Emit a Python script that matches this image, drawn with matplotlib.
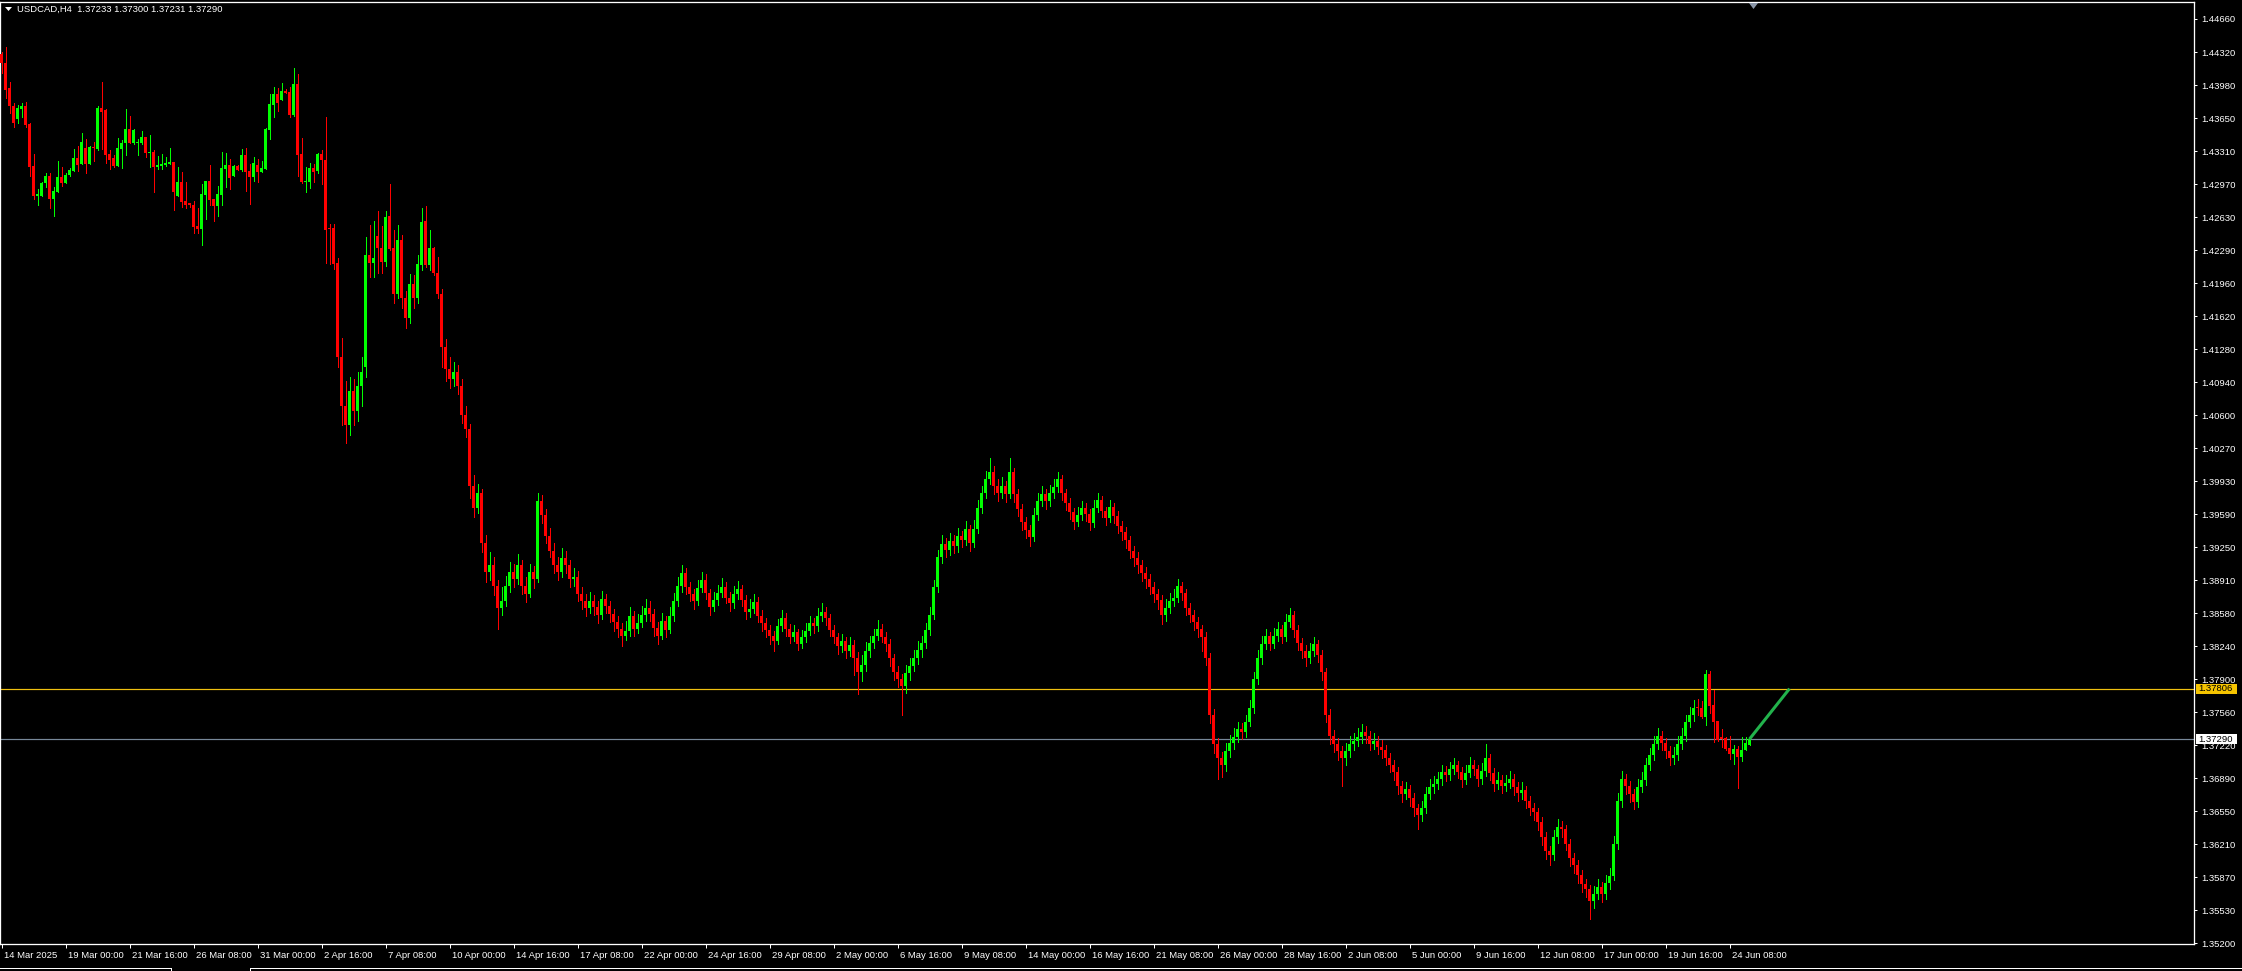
import numpy as np
import matplotlib
matplotlib.use('Agg')
import matplotlib.pyplot as plt
from matplotlib.patches import Rectangle, Polygon
from matplotlib.transforms import blended_transform_factory, ScaledTranslation

plt.rcParams['font.family'] = ['Liberation Sans', 'DejaVu Sans']

# ---- data (USDCAD H4) ----
title_text = 'USDCAD,H4  1.37233 1.37300 1.37231 1.37290'

opens = [
    1.44302, 1.44206, 1.43951, 1.43770, 1.43640, 1.43743, 1.43770, 1.43586, 1.43156, 1.42853,
    1.42853, 1.42979, 1.43054, 1.42822, 1.42890, 1.43040, 1.42982, 1.43064, 1.43108, 1.43238,
    1.43176, 1.43344, 1.43176, 1.43350, 1.43330, 1.43749, 1.43729, 1.43275, 1.43241, 1.43156,
    1.43330, 1.43388, 1.43531, 1.43395, 1.43395, 1.43395, 1.43453, 1.43289, 1.43299, 1.43149,
    1.43159, 1.43170, 1.43176, 1.43197, 1.42849, 1.42992, 1.42798, 1.42774, 1.42757, 1.42542,
    1.42512, 1.42859, 1.43003, 1.42815, 1.42750, 1.42859, 1.43125, 1.43166, 1.43057, 1.43156,
    1.43115, 1.43269, 1.43105, 1.43040, 1.43166, 1.43098, 1.43122, 1.43528, 1.43780, 1.43893,
    1.43831, 1.43927, 1.43916, 1.43678, 1.43998, 1.43279, 1.42996, 1.42996, 1.43139, 1.43105,
    1.43279, 1.43217, 1.42522, 1.42522, 1.42164, 1.41200, 1.40700, 1.40500, 1.40850, 1.40650,
    1.40900, 1.41100, 1.42245, 1.42167, 1.42440, 1.42321, 1.42177, 1.42645, 1.42321, 1.41850,
    1.42399, 1.41800, 1.41600, 1.41949, 1.41800, 1.42143, 1.42593, 1.42143, 1.42314, 1.42058,
    1.41850, 1.41300, 1.41078, 1.40976, 1.41049, 1.40903, 1.40610, 1.40464, 1.39878, 1.39659,
    1.39805, 1.39293, 1.39000, 1.39073, 1.38854, 1.38634, 1.38707, 1.38854, 1.39000, 1.38927,
    1.39073, 1.38854, 1.38780, 1.39000, 1.38927, 1.39732, 1.39585, 1.39366, 1.39220, 1.39073,
    1.39000, 1.39146, 1.39073, 1.38927, 1.38950, 1.38780, 1.38707, 1.38634, 1.38707, 1.38640,
    1.38561, 1.38720, 1.38650, 1.38570, 1.38488, 1.38415, 1.38341, 1.38400, 1.38550, 1.38420,
    1.38480, 1.38560, 1.38630, 1.38575, 1.38425, 1.38350, 1.38495, 1.38410, 1.38545, 1.38700,
    1.38860, 1.38990, 1.38845, 1.38770, 1.38705, 1.38840, 1.38920, 1.38785, 1.38640, 1.38710,
    1.38790, 1.38850, 1.38737, 1.38678, 1.38775, 1.38824, 1.38715, 1.38590, 1.38625, 1.38695,
    1.38555, 1.38480, 1.38405, 1.38345, 1.38298, 1.38444, 1.38532, 1.38420, 1.38335, 1.38385,
    1.38268, 1.38330, 1.38400, 1.38475, 1.38444, 1.38550, 1.38590, 1.38525, 1.38410, 1.38340,
    1.38239, 1.38290, 1.38195, 1.38255, 1.38122, 1.37975, 1.38049, 1.38190, 1.38270, 1.38345,
    1.38420, 1.38335, 1.38260, 1.38115, 1.37980, 1.37902, 1.37829, 1.37970, 1.38040, 1.38125,
    1.38200, 1.38275, 1.38410, 1.38565, 1.38850, 1.39150, 1.39290, 1.39225, 1.39322, 1.39263,
    1.39366, 1.39330, 1.39439, 1.39300, 1.39445, 1.39659, 1.39805, 1.39951, 1.40024, 1.39878,
    1.39810, 1.39880, 1.39800, 1.40020, 1.39795, 1.39650, 1.39512, 1.39435, 1.39360, 1.39585,
    1.39732, 1.39800, 1.39730, 1.39810, 1.39875, 1.39950, 1.39805, 1.39703, 1.39615, 1.39515,
    1.39580, 1.39655, 1.39590, 1.39505, 1.39660, 1.39735, 1.39620, 1.39556, 1.39665, 1.39575,
    1.39468, 1.39410, 1.39325, 1.39215, 1.39140, 1.39070, 1.38995, 1.38925, 1.38850, 1.38780,
    1.38710, 1.38560, 1.38635, 1.38705, 1.38737, 1.38855, 1.38785, 1.38630, 1.38565, 1.38490,
    1.38415, 1.38340, 1.38120, 1.37540, 1.37240, 1.37100, 1.37020, 1.37170, 1.37250, 1.37315,
    1.37390, 1.37360, 1.37463, 1.37610, 1.37902, 1.38122, 1.38268, 1.38341, 1.38265, 1.38345,
    1.38415, 1.38335, 1.38488, 1.38561, 1.38410, 1.38270, 1.38195, 1.38122, 1.38190, 1.38260,
    1.38151, 1.37975, 1.37537, 1.37317, 1.37244, 1.37171, 1.37098, 1.37165, 1.37240, 1.37273,
    1.37310, 1.37361, 1.37320, 1.37245, 1.37270, 1.37214, 1.37175, 1.37095, 1.37024, 1.36951,
    1.36805, 1.36731, 1.36776, 1.36688, 1.36585, 1.36512, 1.36580, 1.36725, 1.36800, 1.36834,
    1.36878, 1.36950, 1.36922, 1.36981, 1.37020, 1.36955, 1.36875, 1.36945, 1.37030, 1.36985,
    1.36880, 1.36960, 1.37095, 1.36940, 1.36830, 1.36870, 1.36810, 1.36840, 1.36885, 1.36795,
    1.36735, 1.36770, 1.36658, 1.36590, 1.36541, 1.36439, 1.36292, 1.36146, 1.36102, 1.36285,
    1.36395, 1.36366, 1.36219, 1.36073, 1.35999, 1.35897, 1.35809, 1.35751, 1.35634, 1.35707,
    1.35780, 1.35700, 1.35815, 1.35890, 1.36219, 1.36658, 1.36878, 1.36805, 1.36731, 1.36650,
    1.36800, 1.36870, 1.37024, 1.37127, 1.37244, 1.37317, 1.37250, 1.37171, 1.37098, 1.37130,
    1.37240, 1.37320, 1.37463, 1.37537, 1.37610, 1.37609, 1.37520, 1.37957, 1.37636, 1.37476,
    1.37308, 1.37305, 1.37203, 1.37138, 1.37189, 1.37111, 1.37179, 1.37233,
]
highs = [
    1.44326, 1.44377, 1.44019, 1.43797, 1.43780, 1.43797, 1.43811, 1.43592, 1.43279, 1.42921,
    1.42996, 1.43088, 1.43088, 1.42945, 1.43207, 1.43142, 1.43081, 1.43139, 1.43327, 1.43361,
    1.43490, 1.43432, 1.43361, 1.43405, 1.43770, 1.44015, 1.43736, 1.43320, 1.43269, 1.43442,
    1.43422, 1.43739, 1.43668, 1.43531, 1.43436, 1.43514, 1.43456, 1.43473, 1.43320, 1.43258,
    1.43279, 1.43252, 1.43340, 1.43200, 1.43146, 1.43095, 1.42996, 1.42774, 1.42801, 1.42730,
    1.42972, 1.43003, 1.43166, 1.42815, 1.42951, 1.43299, 1.43286, 1.43224, 1.43163, 1.43163,
    1.43327, 1.43340, 1.43173, 1.43248, 1.43224, 1.43207, 1.43545, 1.43893, 1.43968, 1.43957,
    1.44009, 1.43940, 1.43968, 1.44159, 1.44097, 1.43446, 1.43149, 1.43183, 1.43173, 1.43286,
    1.43320, 1.43654, 1.42563, 1.42559, 1.42210, 1.41400, 1.40950, 1.41000, 1.40980, 1.41050,
    1.41200, 1.42433, 1.42552, 1.42593, 1.42696, 1.42542, 1.42696, 1.42972, 1.42501, 1.42552,
    1.42450, 1.41880, 1.42051, 1.42041, 1.42245, 1.42726, 1.42747, 1.42501, 1.42330, 1.42228,
    1.41900, 1.41380, 1.41200, 1.41150, 1.41120, 1.40980, 1.40700, 1.40520, 1.39990, 1.39900,
    1.39850, 1.39380, 1.39200, 1.39150, 1.38920, 1.38850, 1.38960, 1.39100, 1.39080, 1.39180,
    1.39120, 1.38950, 1.39080, 1.39060, 1.39805, 1.39790, 1.39640, 1.39450, 1.39300, 1.39150,
    1.39250, 1.39220, 1.39120, 1.39040, 1.39010, 1.38850, 1.38780, 1.38800, 1.38760, 1.38700,
    1.38810, 1.38780, 1.38700, 1.38620, 1.38550, 1.38480, 1.38500, 1.38640, 1.38600, 1.38570,
    1.38650, 1.38720, 1.38700, 1.38620, 1.38490, 1.38580, 1.38550, 1.38640, 1.38790, 1.38950,
    1.39073, 1.39040, 1.38900, 1.38830, 1.38920, 1.39000, 1.38980, 1.38830, 1.38800, 1.38870,
    1.38940, 1.38900, 1.38800, 1.38860, 1.38910, 1.38870, 1.38760, 1.38720, 1.38780, 1.38740,
    1.38610, 1.38530, 1.38460, 1.38400, 1.38520, 1.38610, 1.38580, 1.38470, 1.38460, 1.38420,
    1.38410, 1.38480, 1.38550, 1.38530, 1.38630, 1.38680, 1.38640, 1.38570, 1.38460, 1.38380,
    1.38370, 1.38330, 1.38330, 1.38300, 1.38180, 1.38150, 1.38280, 1.38350, 1.38420, 1.38510,
    1.38470, 1.38390, 1.38310, 1.38160, 1.38040, 1.37960, 1.38050, 1.38120, 1.38200, 1.38290,
    1.38350, 1.38480, 1.38640, 1.38920, 1.39230, 1.39380, 1.39350, 1.39400, 1.39380, 1.39450,
    1.39420, 1.39520, 1.39480, 1.39530, 1.39740, 1.39880, 1.40030, 1.40171, 1.40080, 1.39950,
    1.39970, 1.39930, 1.40171, 1.40060, 1.39850, 1.39700, 1.39560, 1.39480, 1.39660, 1.39810,
    1.39880, 1.39850, 1.39890, 1.39950, 1.40024, 1.39990, 1.39850, 1.39760, 1.39660, 1.39670,
    1.39730, 1.39710, 1.39640, 1.39740, 1.39810, 1.39780, 1.39670, 1.39740, 1.39710, 1.39620,
    1.39520, 1.39460, 1.39370, 1.39270, 1.39200, 1.39120, 1.39050, 1.38980, 1.38900, 1.38830,
    1.38760, 1.38720, 1.38790, 1.38830, 1.38930, 1.38900, 1.38830, 1.38680, 1.38610, 1.38540,
    1.38460, 1.38390, 1.38170, 1.37600, 1.37300, 1.37160, 1.37250, 1.37330, 1.37400, 1.37470,
    1.37450, 1.37540, 1.37690, 1.37980, 1.38200, 1.38350, 1.38420, 1.38390, 1.38430, 1.38490,
    1.38460, 1.38570, 1.38634, 1.38600, 1.38460, 1.38320, 1.38250, 1.38270, 1.38340, 1.38300,
    1.38200, 1.38020, 1.37600, 1.37380, 1.37300, 1.37220, 1.37250, 1.37320, 1.37350, 1.37400,
    1.37440, 1.37420, 1.37370, 1.37350, 1.37320, 1.37280, 1.37230, 1.37150, 1.37080, 1.37000,
    1.36860, 1.36850, 1.36820, 1.36740, 1.36630, 1.36660, 1.36800, 1.36880, 1.36910, 1.36950,
    1.37030, 1.37010, 1.37060, 1.37100, 1.37070, 1.37000, 1.37020, 1.37110, 1.37080, 1.37030,
    1.37050, 1.37244, 1.37140, 1.36990, 1.36950, 1.36920, 1.36920, 1.36960, 1.36930, 1.36850,
    1.36850, 1.36810, 1.36710, 1.36640, 1.36590, 1.36490, 1.36340, 1.36200, 1.36360, 1.36470,
    1.36450, 1.36410, 1.36270, 1.36120, 1.36050, 1.35950, 1.35860, 1.35800, 1.35790, 1.35860,
    1.35830, 1.35900, 1.35970, 1.36300, 1.36740, 1.36960, 1.36930, 1.36860, 1.36780, 1.36880,
    1.36950, 1.37100, 1.37200, 1.37320, 1.37400, 1.37370, 1.37300, 1.37220, 1.37210, 1.37320,
    1.37400, 1.37540, 1.37620, 1.37690, 1.37700, 1.37680, 1.37998, 1.37988, 1.37793, 1.37476,
    1.37394, 1.37315, 1.37322, 1.37230, 1.37220, 1.37308, 1.37308, 1.37300,
]
lows = [
    1.44104, 1.43848, 1.43695, 1.43552, 1.43592, 1.43661, 1.43552, 1.43057, 1.42822, 1.42760,
    1.42853, 1.42945, 1.42730, 1.42645, 1.42890, 1.42951, 1.42979, 1.43054, 1.43105, 1.43108,
    1.43173, 1.43088, 1.43176, 1.43204, 1.43320, 1.43327, 1.43183, 1.43129, 1.43142, 1.43156,
    1.43139, 1.43272, 1.43388, 1.43381, 1.43272, 1.43378, 1.43251, 1.43149, 1.42893, 1.43122,
    1.43122, 1.43156, 1.43173, 1.42709, 1.42849, 1.42740, 1.42730, 1.42740, 1.42467, 1.42467,
    1.42351, 1.42614, 1.42754, 1.42593, 1.42645, 1.42754, 1.42938, 1.42924, 1.43057, 1.43115,
    1.43105, 1.42900, 1.42771, 1.43006, 1.42996, 1.43098, 1.43122, 1.43436, 1.43661, 1.43722,
    1.43831, 1.43899, 1.43661, 1.43671, 1.43057, 1.42979, 1.42893, 1.42927, 1.42989, 1.43081,
    1.42968, 1.42160, 1.42153, 1.42106, 1.41100, 1.40500, 1.40321, 1.40400, 1.40500, 1.40550,
    1.40700, 1.41000, 1.42024, 1.42024, 1.42058, 1.42058, 1.42133, 1.42300, 1.41750, 1.41800,
    1.41700, 1.41500, 1.41550, 1.41700, 1.41750, 1.42092, 1.42126, 1.42092, 1.42040, 1.41800,
    1.41100, 1.40950, 1.40880, 1.40900, 1.40820, 1.40530, 1.40380, 1.39760, 1.39560, 1.39600,
    1.39200, 1.38900, 1.38920, 1.38760, 1.38420, 1.38560, 1.38650, 1.38800, 1.38850, 1.38880,
    1.38780, 1.38690, 1.38740, 1.38840, 1.38900, 1.39500, 1.39300, 1.39150, 1.38990, 1.38920,
    1.38950, 1.38990, 1.38850, 1.38860, 1.38700, 1.38620, 1.38550, 1.38580, 1.38560, 1.38480,
    1.38520, 1.38580, 1.38490, 1.38400, 1.38330, 1.38240, 1.38300, 1.38350, 1.38350, 1.38380,
    1.38440, 1.38500, 1.38500, 1.38350, 1.38260, 1.38310, 1.38330, 1.38380, 1.38500, 1.38650,
    1.38800, 1.38780, 1.38700, 1.38620, 1.38660, 1.38800, 1.38720, 1.38560, 1.38600, 1.38660,
    1.38740, 1.38680, 1.38600, 1.38630, 1.38720, 1.38650, 1.38520, 1.38540, 1.38580, 1.38490,
    1.38400, 1.38330, 1.38260, 1.38195, 1.38260, 1.38400, 1.38350, 1.38270, 1.38290, 1.38200,
    1.38220, 1.38280, 1.38360, 1.38380, 1.38400, 1.38500, 1.38460, 1.38350, 1.38270, 1.38160,
    1.38180, 1.38120, 1.38140, 1.37950, 1.37756, 1.37880, 1.37990, 1.38130, 1.38220, 1.38300,
    1.38280, 1.38190, 1.38040, 1.37900, 1.37820, 1.37537, 1.37760, 1.37900, 1.37990, 1.38060,
    1.38130, 1.38220, 1.38360, 1.38520, 1.38800, 1.39090, 1.39150, 1.39170, 1.39190, 1.39210,
    1.39260, 1.39280, 1.39220, 1.39260, 1.39400, 1.39600, 1.39760, 1.39900, 1.39800, 1.39730,
    1.39760, 1.39720, 1.39760, 1.39720, 1.39570, 1.39430, 1.39350, 1.39270, 1.39320, 1.39530,
    1.39680, 1.39650, 1.39680, 1.39760, 1.39820, 1.39740, 1.39630, 1.39540, 1.39440, 1.39470,
    1.39530, 1.39520, 1.39430, 1.39460, 1.39610, 1.39560, 1.39480, 1.39510, 1.39500, 1.39400,
    1.39330, 1.39250, 1.39140, 1.39060, 1.38990, 1.38910, 1.38840, 1.38770, 1.38690, 1.38620,
    1.38470, 1.38500, 1.38580, 1.38650, 1.38690, 1.38710, 1.38560, 1.38490, 1.38410, 1.38330,
    1.38195, 1.38050, 1.37450, 1.37150, 1.36878, 1.36900, 1.36960, 1.37110, 1.37190, 1.37260,
    1.37290, 1.37310, 1.37420, 1.37560, 1.37850, 1.38060, 1.38210, 1.38200, 1.38220, 1.38290,
    1.38270, 1.38290, 1.38440, 1.38340, 1.38200, 1.38120, 1.38040, 1.38070, 1.38140, 1.38080,
    1.37900, 1.37460, 1.37240, 1.37160, 1.37080, 1.36805, 1.37030, 1.37110, 1.37180, 1.37220,
    1.37250, 1.37250, 1.37180, 1.37190, 1.37140, 1.37100, 1.37020, 1.36950, 1.36870, 1.36730,
    1.36650, 1.36680, 1.36610, 1.36500, 1.36366, 1.36450, 1.36530, 1.36680, 1.36740, 1.36780,
    1.36820, 1.36860, 1.36870, 1.36930, 1.36890, 1.36800, 1.36830, 1.36900, 1.36920, 1.36810,
    1.36830, 1.36910, 1.36870, 1.36760, 1.36780, 1.36740, 1.36760, 1.36790, 1.36720, 1.36660,
    1.36680, 1.36580, 1.36510, 1.36460, 1.36360, 1.36210, 1.36060, 1.35999, 1.36050, 1.36230,
    1.36290, 1.36150, 1.35990, 1.35920, 1.35820, 1.35730, 1.35670, 1.35444, 1.35560, 1.35650,
    1.35620, 1.35650, 1.35760, 1.35850, 1.36170, 1.36600, 1.36730, 1.36650, 1.36570, 1.36600,
    1.36750, 1.36820, 1.36970, 1.37080, 1.37190, 1.37180, 1.37100, 1.37020, 1.37040, 1.37080,
    1.37190, 1.37270, 1.37410, 1.37480, 1.37540, 1.37503, 1.37435, 1.37561, 1.37264, 1.37274,
    1.37213, 1.37179, 1.37083, 1.37036, 1.36793, 1.37070, 1.37179, 1.37231,
]
closes = [
    1.44206, 1.43934, 1.43773, 1.43599, 1.43746, 1.43770, 1.43575, 1.43149, 1.42853, 1.42870,
    1.42979, 1.43054, 1.42822, 1.42897, 1.43040, 1.42982, 1.43064, 1.43115, 1.43238, 1.43166,
    1.43402, 1.43176, 1.43354, 1.43337, 1.43749, 1.43712, 1.43269, 1.43217, 1.43156, 1.43340,
    1.43388, 1.43531, 1.43395, 1.43524, 1.43402, 1.43453, 1.43289, 1.43299, 1.43149, 1.43166,
    1.43180, 1.43187, 1.43197, 1.42890, 1.42992, 1.42791, 1.42757, 1.42754, 1.42532, 1.42512,
    1.42870, 1.43003, 1.42808, 1.42750, 1.42870, 1.43139, 1.43166, 1.43037, 1.43159, 1.43115,
    1.43269, 1.43098, 1.43040, 1.43187, 1.43095, 1.43139, 1.43538, 1.43790, 1.43893, 1.43801,
    1.43923, 1.43906, 1.43678, 1.43998, 1.43269, 1.42996, 1.43006, 1.43139, 1.43098, 1.43279,
    1.43217, 1.42501, 1.42512, 1.42153, 1.41200, 1.40700, 1.40500, 1.40850, 1.40650, 1.40900,
    1.41050, 1.42245, 1.42167, 1.42211, 1.42314, 1.42177, 1.42634, 1.42307, 1.41850, 1.42399,
    1.41800, 1.41600, 1.41949, 1.41800, 1.42153, 1.42583, 1.42143, 1.42317, 1.42058, 1.41850,
    1.41300, 1.41078, 1.40976, 1.41049, 1.40903, 1.40610, 1.40464, 1.39878, 1.39659, 1.39805,
    1.39293, 1.39000, 1.39073, 1.38854, 1.38634, 1.38707, 1.38854, 1.39000, 1.38927, 1.39073,
    1.38854, 1.38780, 1.39000, 1.38927, 1.39732, 1.39585, 1.39366, 1.39220, 1.39073, 1.39000,
    1.39146, 1.39073, 1.38927, 1.38950, 1.38780, 1.38707, 1.38634, 1.38707, 1.38640, 1.38561,
    1.38720, 1.38650, 1.38570, 1.38488, 1.38415, 1.38341, 1.38400, 1.38550, 1.38420, 1.38480,
    1.38560, 1.38630, 1.38575, 1.38425, 1.38350, 1.38495, 1.38410, 1.38545, 1.38700, 1.38860,
    1.38990, 1.38845, 1.38770, 1.38705, 1.38840, 1.38920, 1.38785, 1.38640, 1.38710, 1.38790,
    1.38850, 1.38737, 1.38678, 1.38775, 1.38824, 1.38715, 1.38590, 1.38625, 1.38695, 1.38555,
    1.38480, 1.38405, 1.38345, 1.38298, 1.38444, 1.38532, 1.38420, 1.38335, 1.38385, 1.38268,
    1.38330, 1.38400, 1.38475, 1.38444, 1.38550, 1.38590, 1.38525, 1.38410, 1.38340, 1.38239,
    1.38290, 1.38195, 1.38255, 1.38122, 1.37975, 1.38049, 1.38190, 1.38270, 1.38345, 1.38420,
    1.38335, 1.38260, 1.38115, 1.37980, 1.37902, 1.37829, 1.37970, 1.38040, 1.38125, 1.38200,
    1.38275, 1.38410, 1.38565, 1.38850, 1.39150, 1.39290, 1.39225, 1.39322, 1.39263, 1.39366,
    1.39330, 1.39439, 1.39300, 1.39445, 1.39659, 1.39805, 1.39951, 1.40024, 1.39878, 1.39810,
    1.39880, 1.39800, 1.40020, 1.39795, 1.39650, 1.39512, 1.39435, 1.39360, 1.39585, 1.39732,
    1.39800, 1.39730, 1.39810, 1.39875, 1.39950, 1.39805, 1.39703, 1.39615, 1.39515, 1.39580,
    1.39655, 1.39590, 1.39505, 1.39660, 1.39735, 1.39620, 1.39556, 1.39665, 1.39575, 1.39468,
    1.39410, 1.39325, 1.39215, 1.39140, 1.39070, 1.38995, 1.38925, 1.38850, 1.38780, 1.38710,
    1.38560, 1.38635, 1.38705, 1.38737, 1.38855, 1.38785, 1.38630, 1.38565, 1.38490, 1.38415,
    1.38340, 1.38120, 1.37540, 1.37240, 1.37100, 1.37020, 1.37170, 1.37250, 1.37315, 1.37390,
    1.37360, 1.37463, 1.37610, 1.37902, 1.38122, 1.38268, 1.38341, 1.38265, 1.38345, 1.38415,
    1.38335, 1.38488, 1.38561, 1.38410, 1.38270, 1.38195, 1.38122, 1.38190, 1.38260, 1.38151,
    1.37975, 1.37537, 1.37317, 1.37244, 1.37171, 1.37098, 1.37165, 1.37240, 1.37273, 1.37310,
    1.37361, 1.37320, 1.37245, 1.37270, 1.37214, 1.37175, 1.37095, 1.37024, 1.36951, 1.36805,
    1.36731, 1.36776, 1.36688, 1.36585, 1.36512, 1.36580, 1.36725, 1.36800, 1.36834, 1.36878,
    1.36950, 1.36922, 1.36981, 1.37020, 1.36955, 1.36875, 1.36945, 1.37030, 1.36985, 1.36880,
    1.36960, 1.37095, 1.36940, 1.36830, 1.36870, 1.36810, 1.36840, 1.36885, 1.36795, 1.36735,
    1.36770, 1.36658, 1.36590, 1.36541, 1.36439, 1.36292, 1.36146, 1.36102, 1.36285, 1.36395,
    1.36366, 1.36219, 1.36073, 1.35999, 1.35897, 1.35809, 1.35751, 1.35634, 1.35707, 1.35780,
    1.35700, 1.35815, 1.35890, 1.36219, 1.36658, 1.36878, 1.36805, 1.36731, 1.36650, 1.36800,
    1.36870, 1.37024, 1.37127, 1.37244, 1.37317, 1.37250, 1.37171, 1.37098, 1.37130, 1.37240,
    1.37320, 1.37463, 1.37537, 1.37610, 1.37609, 1.37520, 1.37957, 1.37633, 1.37469, 1.37281,
    1.37291, 1.37186, 1.37138, 1.37189, 1.37111, 1.37179, 1.37251, 1.37290,
]

x_labels = ['14 Mar 2025', '19 Mar 00:00', '21 Mar 16:00', '26 Mar 08:00', '31 Mar 00:00',
            '2 Apr 16:00', '7 Apr 08:00', '10 Apr 00:00', '14 Apr 16:00', '17 Apr 08:00',
            '22 Apr 00:00', '24 Apr 16:00', '29 Apr 08:00', '2 May 00:00', '6 May 16:00',
            '9 May 08:00', '14 May 00:00', '16 May 16:00', '21 May 08:00', '26 May 00:00',
            '28 May 16:00', '2 Jun 08:00', '5 Jun 00:00', '9 Jun 16:00', '12 Jun 08:00',
            '17 Jun 00:00', '19 Jun 16:00', '24 Jun 08:00']
bars_per_label = 16
y_labels = ['1.44660', '1.44320', '1.43980', '1.43650', '1.43310', '1.42970', '1.42630',
            '1.42290', '1.41960', '1.41620', '1.41280', '1.40940', '1.40600', '1.40270',
            '1.39930', '1.39590', '1.39250', '1.38910', '1.38580', '1.38240', '1.37900',
            '1.37560', '1.37220', '1.36890', '1.36550', '1.36210', '1.35870', '1.35530',
            '1.35200']

level_price = 1.37806
bid_price = 1.37290
trend_end_bar = 447

# ---- styling ----
UP = '#00ff00'
DOWN = '#ff0000'
LEVEL = '#f0c010'
BIDLINE = '#778899'
TREND = '#22b24c'
W, H = 2242, 971
PX = 72 / 100.0

opens = np.array(opens)
highs = np.array(highs)
lows = np.array(lows)
closes = np.array(closes)
n_bars = len(closes)

fig = plt.figure(figsize=(W / 100, H / 100), dpi=100, facecolor='black')
ax_left, ax_right, ax_top, ax_bot = 0, 2194, 1.7, 944
ax = fig.add_axes([ax_left / W, (H - ax_bot) / H, (ax_right - ax_left) / W, (ax_bot - ax_top) / H])
ax.set_facecolor('black')

idx = np.arange(n_bars)
up = closes >= opens
cols = np.where(up, UP, DOWN)

# wicks then bodies
ax.vlines(idx, lows, highs, colors=cols, linewidth=PX, antialiased=False, zorder=3)
body_lo = np.minimum(opens, closes)
body_h = np.maximum(np.abs(closes - opens), 0.00009)
ax.bar(idx, body_h, bottom=body_lo, width=0.75, color=cols, linewidth=0, antialiased=False, zorder=4)

ax.axhline(level_price, color=LEVEL, linewidth=PX * 1.2, zorder=2)
ax.axhline(bid_price, color=BIDLINE, linewidth=PX * 1.2, zorder=2)
ax.plot([n_bars - 1, trend_end_bar], [closes[-1], level_price], color=TREND, linewidth=2.2, zorder=5,
        solid_capstyle='butt')

ax.set_xlim(-0.375, 548.125)
ax.set_ylim(1.35193, 1.44837)

for sp in ax.spines.values():
    sp.set_color('white')
    sp.set_linewidth(PX * 1.3)

# x axis
ax.set_xticks(np.arange(len(x_labels)) * bars_per_label)
ax.set_xticklabels(x_labels, ha='left')
ax.tick_params(axis='x', colors='white', direction='out', length=3.0, width=PX, pad=2.2,
               labelsize=6.8, labelcolor='white')
shift = ScaledTranslation(2 / 100, 0, fig.dpi_scale_trans)
for lab in ax.get_xticklabels():
    lab.set_transform(lab.get_transform() + shift)

# y axis on the right
ax.yaxis.tick_right()
ax.set_yticks(np.linspace(float(y_labels[0]), float(y_labels[-1]), len(y_labels)))
ax.set_yticklabels(y_labels)
ax.tick_params(axis='y', colors='white', direction='out', length=2.5, width=PX, pad=2.5,
               labelsize=6.8, labelcolor='white')

# price tags on the scale
tag = blended_transform_factory(fig.transFigure, ax.transData)
tag_h = 10 / 9771
for price, face in [(level_price, '#f5c400'), (bid_price, 'white')]:
    fig.add_artist(Rectangle((2196 / W, price - tag_h / 2), 41 / W, tag_h, transform=tag,
                             facecolor=face, edgecolor='none', zorder=10))
    fig.text(2198.5 / W, price, '%.5f' % price, transform=tag, color='black', fontsize=6.8,
             va='center', ha='left', zorder=11)

# header
fig.text(17 / W, 1 - 9 / H, title_text, color='white', fontsize=6.8, va='center', ha='left')
fig.add_artist(Polygon([[5 / W, 1 - 7 / H], [12 / W, 1 - 7 / H], [8.5 / W, 1 - 11 / H]],
                       closed=True, facecolor='white', edgecolor='none', transform=fig.transFigure))
fig.add_artist(Polygon([[1749 / W, 1 - 3 / H], [1758 / W, 1 - 3 / H], [1753.5 / W, 1 - 9 / H]],
                       closed=True, facecolor='#8a96a8', edgecolor='none', transform=fig.transFigure))

# tab strip at the very bottom
yb = 1 - 967.5 / H
fig.add_artist(plt.Line2D([0, 171 / W], [yb, yb], color='white', linewidth=PX, transform=fig.transFigure))
fig.add_artist(plt.Line2D([171 / W, 171 / W], [yb, 0], color='white', linewidth=PX, transform=fig.transFigure))
fig.add_artist(plt.Line2D([250 / W, 1], [yb, yb], color='white', linewidth=PX, transform=fig.transFigure))
fig.add_artist(plt.Line2D([250 / W, 250 / W], [yb, 0], color='white', linewidth=PX, transform=fig.transFigure))

fig.savefig('out.png', dpi=100, facecolor='black')
